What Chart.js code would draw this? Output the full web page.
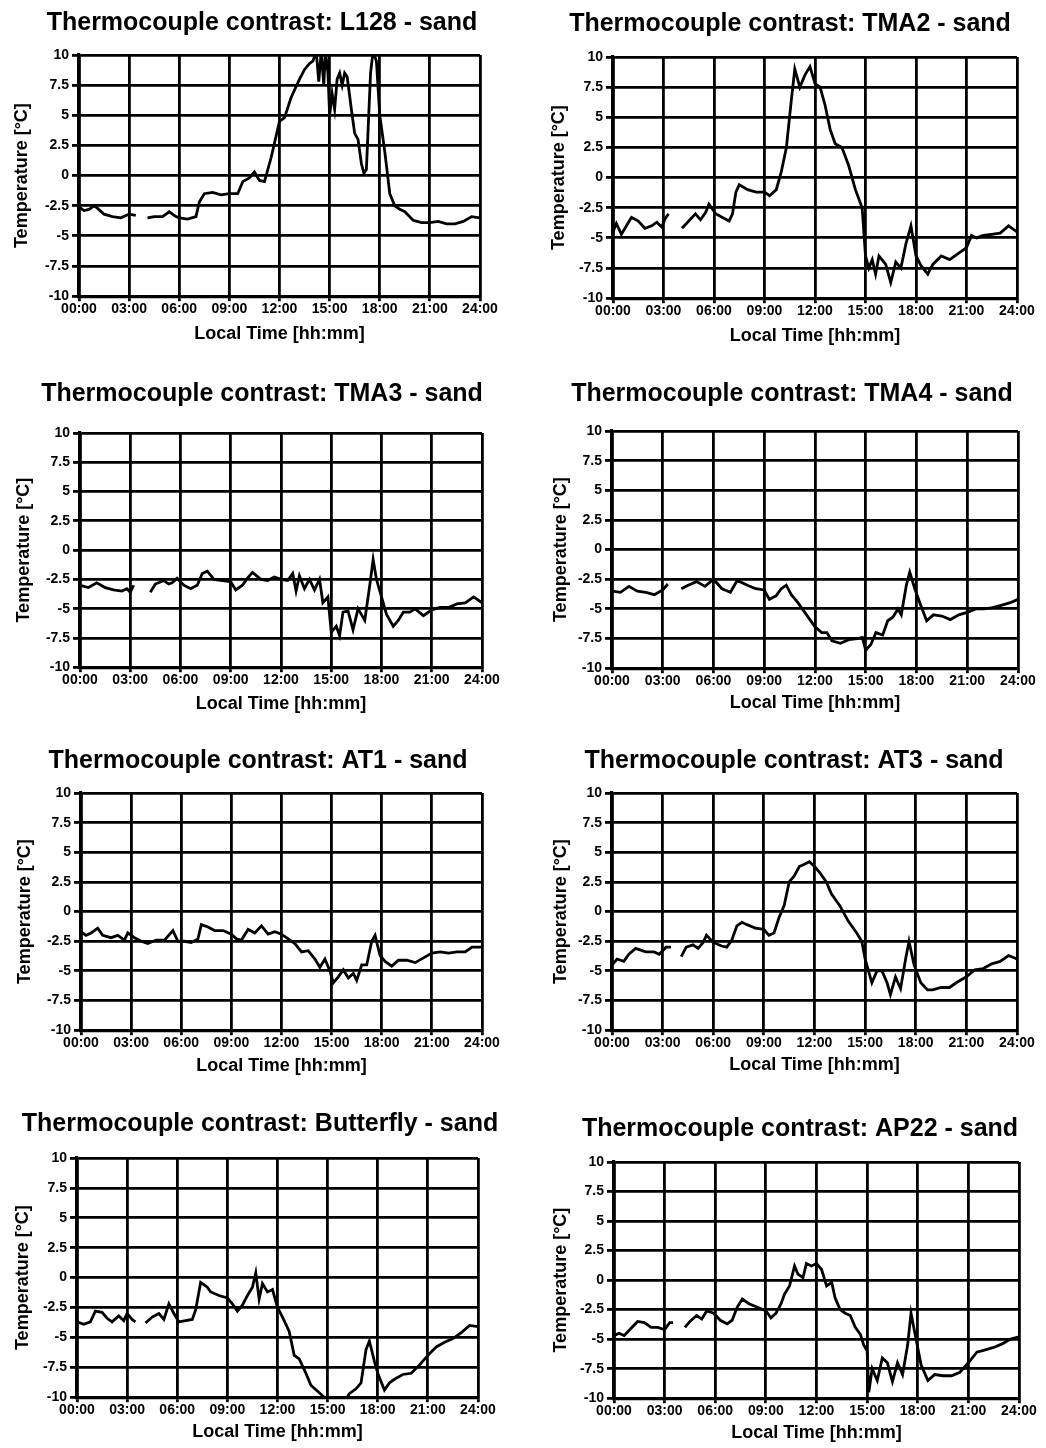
<!DOCTYPE html>
<html><head><meta charset="utf-8">
<script src="https://cdn.jsdelivr.net/npm/chart.js@4.4.1/dist/chart.umd.min.js"></script>
<style>
html,body{margin:0;padding:0;background:#fff;overflow:hidden;width:1046px;height:1448px;position:relative;}
canvas{position:absolute;}
</style></head><body>
<script>
// ---- DATA ----
const xTickLabels = ["00:00","03:00","06:00","09:00","12:00","15:00","18:00","21:00","24:00"];
const yTickLabels = ["-10","-7.5","-5","-2.5","0","2.5","5","7.5","10"];
const panelNames = ["L128","TMA2","TMA3","TMA4","AT1","AT3","Butterfly","AP22"];

// [hour, temperature °C]; null = gap in record
const L128 = [[0,-2.6],[0.3,-2.9],[0.6,-2.8],[0.9,-2.5],[1.1,-2.7],[1.5,-3.2],[2,-3.4],[2.5,-3.5],[3,-3.2],[3.4,-3.3],[3.8,null],[4.1,-3.5],[4.5,-3.4],[5,-3.4],[5.4,-3.0],[5.8,-3.4],[6,-3.5],[6.5,-3.6],[7,-3.4],[7.2,-2.2],[7.5,-1.5],[8,-1.4],[8.5,-1.6],[9,-1.5],[9.5,-1.5],[9.8,-0.5],[10.2,-0.2],[10.5,0.3],[10.8,-0.4],[11.1,-0.5],[11.5,1.5],[12,4.5],[12.3,4.8],[12.7,6.5],[13.2,8.0],[13.5,8.8],[13.8,9.3],[14,9.5],[14.2,10.3],[14.35,7.8],[14.5,10.3],[14.65,7.5],[14.75,10.3],[14.9,8.5],[15,5.0],[15.15,6.8],[15.3,5.5],[15.45,8.0],[15.6,8.5],[15.75,7.5],[15.9,8.5],[16.05,8.2],[16.3,5.5],[16.5,3.5],[16.7,3.0],[16.9,1.0],[17.05,0.2],[17.2,0.5],[17.45,8.5],[17.6,10.3],[17.8,9.5],[18,5.0],[18.3,2.0],[18.6,-1.5],[18.9,-2.5],[19.2,-2.8],[19.5,-3.0],[20,-3.7],[20.5,-3.9],[21,-3.9],[21.5,-3.8],[22,-4.0],[22.5,-4.0],[23,-3.8],[23.5,-3.4],[24,-3.5]];
const TMA2 = [[0,-4.5],[0.2,-3.8],[0.5,-4.7],[0.8,-4.0],[1.1,-3.3],[1.5,-3.6],[1.9,-4.2],[2.3,-4.0],[2.6,-3.7],[2.9,-4.1],[3.1,-3.4],[3.3,-3.0],[3.7,null],[4.1,-4.2],[4.5,-3.6],[4.9,-3.0],[5.2,-3.5],[5.5,-2.9],[5.7,-2.2],[6.1,-3.0],[6.5,-3.3],[6.9,-3.6],[7.1,-3.0],[7.3,-1.2],[7.5,-0.6],[8,-1.0],[8.5,-1.2],[9,-1.2],[9.3,-1.5],[9.7,-1.0],[10,0.5],[10.3,2.5],[10.6,6.5],[10.8,9.0],[11.1,7.5],[11.4,8.5],[11.7,9.2],[12,7.8],[12.3,7.5],[12.6,6.0],[12.9,4.0],[13.2,2.8],[13.6,2.5],[14,1.0],[14.4,-1.0],[14.8,-2.5],[15,-6.5],[15.2,-7.5],[15.4,-6.8],[15.6,-8.0],[15.8,-6.5],[16.2,-7.2],[16.5,-8.7],[16.8,-7.0],[17.1,-7.5],[17.4,-5.5],[17.7,-4.0],[18,-6.5],[18.3,-7.3],[18.7,-8.0],[19,-7.2],[19.5,-6.5],[20,-6.8],[20.5,-6.3],[21,-5.8],[21.3,-4.8],[21.6,-5.0],[22,-4.8],[22.5,-4.7],[23,-4.6],[23.5,-4.0],[24,-4.5]];
const TMA3 = [[0,-3.0],[0.5,-3.2],[1,-2.8],[1.5,-3.2],[2,-3.4],[2.5,-3.5],[2.8,-3.3],[3,-3.6],[3.2,-3.0],[3.7,null],[4.2,-3.6],[4.5,-2.9],[5,-2.6],[5.3,-2.9],[5.5,-2.8],[5.8,-2.4],[6.2,-3.0],[6.6,-3.3],[7,-3.0],[7.3,-2.0],[7.6,-1.8],[8,-2.5],[8.5,-2.6],[9,-2.7],[9.3,-3.4],[9.7,-3.0],[10,-2.4],[10.3,-1.9],[10.8,-2.5],[11.2,-2.6],[11.6,-2.3],[12,-2.5],[12.4,-2.6],[12.7,-2.0],[12.9,-3.5],[13.1,-2.2],[13.4,-3.3],[13.7,-2.5],[14,-3.4],[14.3,-2.5],[14.5,-4.5],[14.8,-4.0],[15,-7.0],[15.3,-6.5],[15.5,-7.3],[15.7,-5.3],[16,-5.2],[16.3,-6.8],[16.6,-5.0],[17,-6.0],[17.3,-3.0],[17.5,-0.8],[17.7,-2.5],[18,-4.0],[18.3,-5.5],[18.7,-6.5],[19,-6.0],[19.3,-5.3],[19.7,-5.3],[20,-5.0],[20.5,-5.6],[21,-5.1],[21.5,-4.9],[22,-4.9],[22.5,-4.6],[23,-4.5],[23.5,-4.0],[24,-4.5]];
const TMA4 = [[0,-3.5],[0.5,-3.6],[1,-3.1],[1.5,-3.5],[2,-3.6],[2.5,-3.8],[3,-3.4],[3.3,-2.9],[3.7,null],[4.1,-3.3],[4.5,-3.0],[5,-2.7],[5.5,-3.1],[6,-2.5],[6.5,-3.3],[7,-3.6],[7.4,-2.6],[8,-3.0],[8.5,-3.3],[9,-3.4],[9.3,-4.2],[9.7,-3.9],[10,-3.3],[10.3,-3.0],[10.6,-3.8],[11,-4.5],[11.5,-5.5],[12,-6.5],[12.4,-7.0],[12.7,-7.0],[13,-7.7],[13.5,-7.9],[14,-7.6],[14.5,-7.5],[14.8,-7.4],[15,-8.5],[15.3,-8.0],[15.6,-7.0],[16,-7.2],[16.3,-6.0],[16.6,-5.7],[16.9,-5.0],[17.1,-5.5],[17.4,-3.0],[17.6,-1.9],[17.9,-3.3],[18.2,-4.5],[18.6,-6.0],[19,-5.5],[19.5,-5.6],[20,-5.9],[20.5,-5.5],[21,-5.3],[21.5,-5.0],[22,-5.0],[22.5,-4.9],[23,-4.7],[23.5,-4.5],[24,-4.2]];
const AT1 = [[0,-1.7],[0.3,-2.0],[0.6,-1.8],[1,-1.4],[1.3,-2.0],[1.8,-2.2],[2.2,-2.0],[2.6,-2.4],[2.8,-1.8],[3.2,-2.2],[3.6,-2.5],[4,-2.7],[4.5,-2.4],[5,-2.4],[5.5,-1.6],[5.8,-2.5],[6.2,-2.5],[6.6,-2.6],[7,-2.3],[7.2,-1.1],[7.6,-1.3],[8,-1.6],[8.5,-1.6],[9,-1.9],[9.3,-2.3],[9.6,-2.4],[10,-1.5],[10.4,-1.8],[10.8,-1.2],[11.2,-1.9],[11.6,-1.7],[12,-1.9],[12.4,-2.3],[12.8,-2.7],[13.2,-3.4],[13.6,-3.3],[14,-4.0],[14.3,-4.7],[14.6,-4.0],[14.9,-5.0],[15.1,-6.0],[15.4,-5.5],[15.7,-4.9],[16,-5.6],[16.3,-5.2],[16.5,-5.8],[16.8,-4.5],[17.1,-4.5],[17.4,-2.5],[17.6,-2.0],[17.9,-3.7],[18.2,-4.2],[18.6,-4.6],[19,-4.1],[19.5,-4.1],[20,-4.3],[20.5,-3.9],[21,-3.5],[21.5,-3.4],[22,-3.5],[22.5,-3.4],[23,-3.4],[23.4,-3.0],[24,-3.0]];
const AT3 = [[0,-4.5],[0.3,-4.0],[0.7,-4.2],[1,-3.6],[1.4,-3.1],[2,-3.4],[2.5,-3.4],[2.8,-3.6],[3.2,-3.0],[3.5,-3.0],[3.8,null],[4.1,-3.8],[4.4,-3.0],[4.8,-2.8],[5.1,-3.1],[5.4,-2.6],[5.6,-2.0],[6,-2.6],[6.5,-2.9],[6.8,-3.0],[7.1,-2.4],[7.4,-1.2],[7.7,-0.9],[8,-1.1],[8.5,-1.4],[9,-1.5],[9.3,-2.0],[9.6,-1.8],[9.9,-0.5],[10.2,0.5],[10.5,2.5],[10.8,3.0],[11.1,3.8],[11.4,4.0],[11.7,4.2],[12,3.8],[12.3,3.3],[12.7,2.5],[13,1.5],[13.5,0.5],[14,-0.8],[14.5,-1.8],[14.8,-2.5],[15,-4.0],[15.2,-5.0],[15.4,-6.0],[15.7,-5.0],[16,-5.0],[16.3,-6.0],[16.5,-7.0],[16.8,-5.5],[17.1,-6.5],[17.4,-4.0],[17.6,-2.5],[17.9,-4.5],[18.3,-6.0],[18.7,-6.6],[19,-6.6],[19.5,-6.4],[20,-6.4],[20.4,-6.0],[21,-5.5],[21.5,-4.9],[22,-4.8],[22.5,-4.4],[23,-4.2],[23.5,-3.7],[24,-4.0]];
const Butterfly = [[0,-3.7],[0.4,-3.9],[0.8,-3.7],[1.1,-2.8],[1.5,-2.9],[1.8,-3.4],[2.1,-3.7],[2.5,-3.2],[2.8,-3.6],[3,-3.0],[3.3,-3.5],[3.5,-3.7],[3.8,null],[4.1,-3.8],[4.5,-3.3],[4.9,-3.0],[5.2,-3.5],[5.5,-2.2],[5.8,-3.0],[6.1,-3.7],[6.5,-3.6],[6.9,-3.5],[7.1,-2.7],[7.4,-0.4],[7.8,-0.8],[8,-1.2],[8.5,-1.5],[9,-1.7],[9.3,-2.2],[9.6,-2.8],[9.9,-2.3],[10.2,-1.5],[10.5,-0.8],[10.7,0.4],[10.9,-1.8],[11.1,-0.5],[11.4,-1.2],[11.7,-1.0],[12,-2.5],[12.3,-3.3],[12.7,-4.5],[13,-6.5],[13.3,-6.8],[13.7,-8.0],[14,-9.0],[14.4,-9.5],[14.8,-10.0],[15,-10.2],[15.5,-10.6],[16,-10.4],[16.3,-9.7],[16.7,-9.3],[17,-8.8],[17.3,-6.0],[17.5,-5.3],[17.8,-7.0],[18,-8.0],[18.4,-9.4],[18.7,-8.8],[19,-8.5],[19.5,-8.1],[20,-8.0],[20.5,-7.3],[21,-6.5],[21.5,-5.8],[22,-5.4],[22.5,-5.1],[23,-4.6],[23.5,-4.0],[24,-4.1]];
const AP22 = [[0,-4.7],[0.3,-4.5],[0.6,-4.7],[1,-4.1],[1.4,-3.5],[1.8,-3.6],[2.2,-4.0],[2.6,-4.0],[3,-4.2],[3.3,-3.6],[3.5,-3.6],[3.9,null],[4.2,-4.0],[4.5,-3.5],[4.9,-3.0],[5.2,-3.3],[5.5,-2.6],[5.9,-2.8],[6.3,-3.4],[6.7,-3.7],[7,-3.4],[7.3,-2.3],[7.6,-1.6],[8,-2.0],[8.5,-2.3],[9,-2.6],[9.3,-3.2],[9.6,-2.8],[9.9,-2.0],[10.1,-1.2],[10.4,-0.5],[10.7,1.2],[10.9,0.5],[11.2,0.2],[11.4,1.4],[11.7,1.2],[12,1.4],[12.3,0.9],[12.6,-0.5],[12.9,-0.2],[13.1,-1.5],[13.4,-2.5],[13.7,-2.8],[14,-3.0],[14.3,-4.0],[14.6,-4.6],[14.8,-5.5],[15,-6.0],[15.1,-9.5],[15.3,-7.5],[15.6,-8.5],[15.9,-6.6],[16.2,-7.0],[16.5,-8.6],[16.8,-7.0],[17.1,-8.0],[17.4,-5.5],[17.6,-2.8],[17.9,-5.0],[18.2,-7.2],[18.6,-8.5],[19,-8.0],[19.5,-8.1],[20,-8.1],[20.5,-7.8],[21,-7.0],[21.5,-6.1],[22,-5.9],[22.5,-5.7],[23,-5.4],[23.5,-5.0],[24,-4.8]];
const seriesList = [L128, TMA2, TMA3, TMA4, AT1, AT3, Butterfly, AP22];

// ---- LAYOUT (page geometry of each panel) ----
const frames = [
  {T:262, Tc:22.5, L:79,  R:480,  top:55,   bot:296,  yt:22,  xt:334,  cx:0},
  {T:790, Tc:24,   L:613, R:1017, top:57,   bot:298,  yt:559, xt:336,  cx:530},
  {T:262, Tc:394,  L:80,  R:482,  top:433,  bot:667,  yt:24,  xt:704,  cx:0},
  {T:792, Tc:394,  L:612, R:1018, top:431,  bot:668,  yt:561, xt:703,  cx:530},
  {T:258, Tc:761,  L:81,  R:482,  top:793,  bot:1030, yt:25,  xt:1066, cx:0},
  {T:794, Tc:761,  L:612, R:1017, top:793,  bot:1030, yt:561, xt:1065, cx:530},
  {T:260, Tc:1124, L:77,  R:478,  top:1158, bot:1397, yt:23,  xt:1432, cx:0},
  {T:800, Tc:1129, L:614, R:1019, top:1162, bot:1398, yt:561, xt:1433, cx:530}
];

const FAM = '"Liberation Sans", Arial, Helvetica, sans-serif';
const TITLE_SIZE = 25, TITLE_LH = TITLE_SIZE * 1.2;
const AX_SIZE = 18, AX_LH = AX_SIZE * 1.2;

frames.forEach((f, i) => {
  const cy = Math.round(f.Tc - 2 - TITLE_LH / 2);
  const cw = Math.round(2 * (f.T - f.cx));
  const xh = f.xt - f.bot + AX_LH / 2;
  const ch = Math.round(f.bot + xh - cy);
  const tpb = f.top - (cy + 2 + TITLE_LH);
  const yw = f.L - f.cx;
  const pr = f.cx + cw - f.R;

  const cv = document.createElement('canvas');
  cv.width = cw; cv.height = ch;
  cv.style.left = f.cx + 'px'; cv.style.top = cy + 'px';
  cv.style.width = cw + 'px'; cv.style.height = ch + 'px';
  document.body.appendChild(cv);

  const pts = seriesList[i].map(p => ({x: p[0], y: p[1]}));

  new Chart(cv.getContext('2d'), {
    type: 'line',
    data: { datasets: [{
      label: panelNames[i],
      data: pts,
      borderColor: '#000',
      borderWidth: 2.8,
      pointRadius: 0,
      tension: 0,
      fill: false,
      spanGaps: false
    }]},
    options: {
      responsive: false,
      animation: false,
      devicePixelRatio: 1,
      layout: { padding: 0 },
      plugins: {
        legend: { display: false },
        tooltip: { enabled: false },
        title: {
          display: true,
          text: 'Thermocouple contrast: ' + panelNames[i] + ' - sand',
          color: '#000',
          font: { family: FAM, size: TITLE_SIZE, weight: 'bold', lineHeight: 1.2 },
          padding: { top: 2, bottom: tpb }
        }
      },
      scales: {
        x: {
          type: 'linear', min: 0, max: 24,
          ticks: {
            stepSize: 3, autoSkip: false, maxRotation: 0, minRotation: 0,
            color: '#000', padding: 0,
            font: { family: FAM, size: 14, weight: 'bold' },
            callback: v => xTickLabels[Math.round(v / 3)]
          },
          grid: { color: '#000', lineWidth: 2.8, tickLength: 5 },
          border: { color: '#000', width: 3.2 },
          title: {
            display: true, text: 'Local Time [hh:mm]', color: '#000',
            font: { family: FAM, size: AX_SIZE, weight: 'bold', lineHeight: 1.2 },
            padding: { top: 0, bottom: 0 }
          },
          afterFit: s => { s.height = xh; s.paddingLeft = 0; s.paddingRight = pr; }
        },
        y: {
          min: -10, max: 10,
          ticks: {
            stepSize: 2.5, autoSkip: false, color: '#000', padding: 3,
            font: { family: FAM, size: 14, weight: 'bold' },
            callback: v => yTickLabels[Math.round((v + 10) / 2.5)]
          },
          grid: { color: '#000', lineWidth: 2.8, tickLength: 7 },
          border: { color: '#000', width: 3.2 },
          title: {
            display: true, text: 'Temperature [°C]', color: '#000',
            font: { family: FAM, size: AX_SIZE, weight: 'bold', lineHeight: 1.2 },
            padding: { top: (f.yt - f.cx) - AX_LH / 2, bottom: 0 }
          },
          afterFit: s => { s.width = yw; }
        }
      }
    }
  });
});
</script>
</body></html>
